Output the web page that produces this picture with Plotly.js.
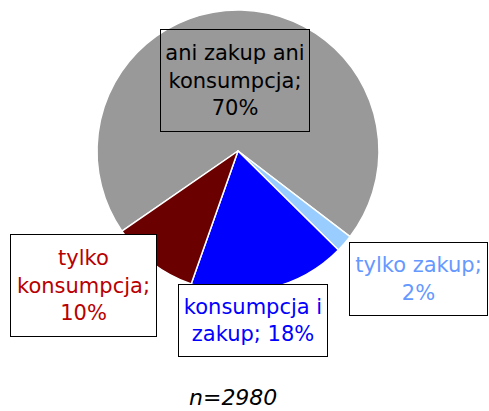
<!DOCTYPE html>
<html>
<head>
<meta charset="utf-8">
<script src="https://cdn.plot.ly/plotly-3.0.1.min.js"></script>
<style>html,body{margin:0;padding:0;background:#fff;}#chart{width:489px;height:411px;}</style>
</head>
<body>
<div id="chart"></div>
<script>
// Data
const categories = ["ani zakup ani konsumpcja", "tylko zakup", "konsumpcja i zakup", "tylko konsumpcja"];
const values = [70, 2, 18, 10];
const labelTexts = ["ani zakup ani<br>konsumpcja;<br>", "tylko zakup;<br>", "konsumpcja i<br>zakup; ", "tylko<br>konsumpcja;<br>"];
const sampleNote = "n=2980";

// Styles
const sliceColors = ["#999999", "#99ccff", "#0000ff", "#6b0000"];
const textColors = ["#000000", "#6699ff", "#0000ff", "#b80000"];
const boxBg = ["rgba(0,0,0,0)", "#ffffff", "#ffffff", "#ffffff"];
const boxPos = [
  {x: 235/489, y: 1 - 80.5/411, w: 148, h: 101},
  {x: 418.5/489, y: 1 - 279/411, w: 137, h: 72},
  {x: 253/489, y: 1 - 320.5/411, w: 148, h: 71},
  {x: 83.5/489, y: 1 - 285.5/411, w: 145, h: 101}
];
const FONT = "DejaVu Sans, Verdana, sans-serif";

const trace = {
  type: "pie",
  labels: categories,
  values: values,
  sort: false,
  direction: "clockwise",
  rotation: 235.4,
  textinfo: "none",
  hoverinfo: "label+percent",
  marker: {colors: sliceColors, line: {color: "#ffffff", width: 1.5}},
  domain: {x: [97/489, 379/489], y: [(411-292)/411, (411-10)/411]},
  showlegend: false
};

const annotations = categories.map((c, i) => ({
  xref: "paper", yref: "paper",
  x: boxPos[i].x, y: boxPos[i].y,
  xanchor: "center", yanchor: "middle",
  showarrow: false,
  text: labelTexts[i] + values[i] + "%",
  font: {family: FONT, size: 21, color: textColors[i]},
  align: "center",
  bordercolor: "#000000",
  borderwidth: 1,
  borderpad: 0,
  bgcolor: boxBg[i],
  width: boxPos[i].w,
  height: boxPos[i].h
}));
annotations.push({
  xref: "paper", yref: "paper",
  x: 233/489, y: 1 - 397/411,
  xanchor: "center", yanchor: "middle",
  showarrow: false,
  text: "<i>" + sampleNote + "</i>",
  font: {family: FONT, size: 22, color: "#000000"}
});

const layout = {
  width: 489, height: 411,
  margin: {l: 0, r: 0, t: 0, b: 0},
  paper_bgcolor: "#ffffff",
  plot_bgcolor: "#ffffff",
  annotations: annotations
};

Plotly.newPlot("chart", [trace], layout, {displayModeBar: false, staticPlot: true});
</script>
</body>
</html>
